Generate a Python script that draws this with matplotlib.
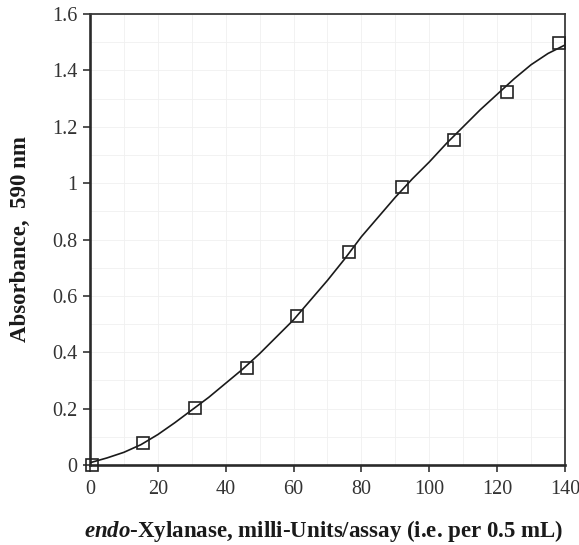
import matplotlib
matplotlib.use("Agg")
import matplotlib.pyplot as plt
from matplotlib.ticker import MultipleLocator

# Data
enzyme_mU = [0.6, 15.5, 30.9, 46.2, 61.1, 76.4, 92.0, 107.3, 122.8, 138.3]
absorbance = [0.0, 0.079, 0.203, 0.343, 0.530, 0.755, 0.985, 1.153, 1.323, 1.497]

# Fitted curve
curve_x = [0, 5, 10, 15, 20, 25, 30, 35, 40, 45, 50, 55, 60, 65, 70,
           75, 80, 85, 90, 95, 100, 105, 110, 115, 120, 125, 130, 135, 140]
curve_y = [0.008, 0.025, 0.045, 0.072, 0.108, 0.150, 0.195, 0.240, 0.290,
           0.340, 0.395, 0.455, 0.515, 0.585, 0.655, 0.730, 0.810, 0.880,
           0.950, 1.015, 1.075, 1.140, 1.200, 1.260, 1.315, 1.370, 1.420,
           1.460, 1.490]

x_ticks = [0, 20, 40, 60, 80, 100, 120, 140]
y_ticks = [0, 0.2, 0.4, 0.6, 0.8, 1.0, 1.2, 1.4, 1.6]
y_ticklabels = ["0", "0.2", "0.4", "0.6", "0.8", "1", "1.2", "1.4", "1.6"]

plt.rcParams['font.family'] = ['Liberation Serif', 'DejaVu Serif']
plt.rcParams['mathtext.fontset'] = 'custom'
plt.rcParams['mathtext.it'] = 'Liberation Serif:italic:bold'
plt.rcParams['mathtext.rm'] = 'Liberation Serif:bold'
plt.rcParams['mathtext.bf'] = 'Liberation Serif:bold'

fig = plt.figure(figsize=(5.79, 5.45), dpi=100)
ax = fig.add_axes([0.1554, 0.1468, 0.9758 - 0.1554, 0.9743 - 0.1468])

ax.plot(curve_x, curve_y, color='#1a1a1a', lw=1.2, zorder=3)
ax.plot(enzyme_mU, absorbance, linestyle='none', marker='s', markersize=8.5,
        markerfacecolor='none', markeredgecolor='#222222', markeredgewidth=1.2,
        zorder=4, clip_on=False)

ax.set_xlim(0, 140)
ax.set_ylim(0, 1.6)
ax.set_xticks(x_ticks)
ax.set_yticks(y_ticks)
ax.set_yticklabels(y_ticklabels)
ax.xaxis.set_minor_locator(MultipleLocator(10))
ax.yaxis.set_minor_locator(MultipleLocator(0.1))
ax.grid(which='both', color='#f0f0f0', lw=0.6, zorder=0)
ax.tick_params(which='minor', length=0)
ax.tick_params(which='major', direction='out', length=5, width=1.2,
               colors='#333333', labelsize=14.5, pad=4)
ax.tick_params(axis='x', pad=6)

for side in ['left', 'bottom']:
    ax.spines[side].set_linewidth(1.9)
    ax.spines[side].set_color('#2a2a2a')
for side in ['top', 'right']:
    ax.spines[side].set_linewidth(1.3)
    ax.spines[side].set_color('#3a3a3a')

ax.set_ylabel('Absorbance,  590 nm', fontsize=16.5, fontweight='bold',
              color='#1a1a1a', labelpad=15)
ax.set_xlabel(r'$\it{endo}$-Xylanase, milli-Units/assay (i.e. per 0.5 mL)',
              fontsize=16.5, fontweight='bold', color='#1a1a1a')
ax.xaxis.set_label_coords(0.492, -0.118)

fig.savefig('out.png', dpi=100)
